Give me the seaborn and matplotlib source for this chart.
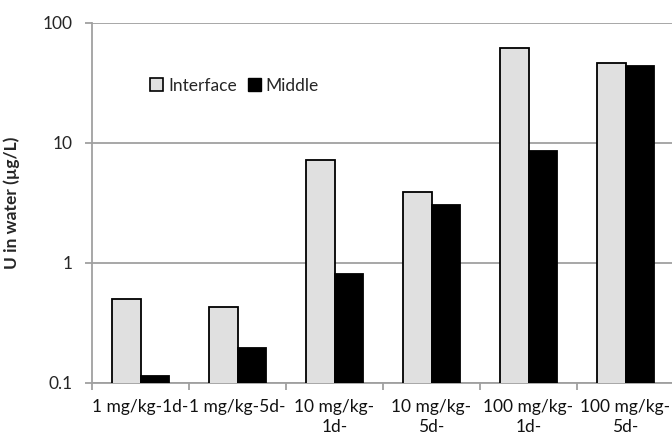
import matplotlib
matplotlib.use("Agg")
import matplotlib.pyplot as plt
import seaborn as sns
import pandas as pd
from matplotlib.patches import Patch
from matplotlib.ticker import FixedLocator, NullFormatter, NullLocator

categories = ["1 mg/kg-1d-", "1 mg/kg-5d-", "10 mg/kg-\n1d-", "10 mg/kg-\n5d-",
              "100 mg/kg-\n1d-", "100 mg/kg-\n5d-"]
interface = [0.50, 0.43, 7.2, 3.9, 62.0, 46.0]
middle = [0.114, 0.195, 0.80, 3.03, 8.6, 43.5]
series = ["Interface", "Middle"]
yticks = [0.1, 1, 10, 100]
ytick_labels = ["0.1", "1", "10", "100"]

df = pd.DataFrame({
    "cat": categories * 2,
    "series": [series[0]] * len(categories) + [series[1]] * len(categories),
    "value": interface + middle,
})

sns.set_style("white")
plt.rcParams["font.family"] = ["Lato", "DejaVu Sans"]
FS = 12.5

fig = plt.figure(figsize=(6.72, 4.37), dpi=100)
ax = fig.add_axes([92 / 672, 1 - 382.7 / 437, 582 / 672, 360 / 437])

colors = {"Interface": "#e0e0e0", "Middle": "#000000"}
sns.barplot(data=df, x="cat", y="value", hue="series", hue_order=series,
            palette=colors, width=0.58, ax=ax, legend=False,
            edgecolor="black", linewidth=1.3, saturation=1, zorder=3)
ax.set_yscale("log")
ax.set_ylim(0.1, 100)
ax.set_xlim(-0.5, len(categories) - 0.5)

ax.yaxis.set_major_locator(FixedLocator(yticks))
ax.set_yticklabels(ytick_labels)
ax.yaxis.set_minor_locator(NullLocator())
ax.grid(axis="y", color="#a0a0a0", linewidth=1.3, zorder=0)
ax.set_axisbelow(True)

ax.set_xticks(range(len(categories)))
ax.set_xticklabels(categories, fontsize=FS, color="#111111", linespacing=1.25)
ax.xaxis.set_minor_locator(FixedLocator([i - 0.5 for i in range(len(categories) + 1)]))
ax.xaxis.set_minor_formatter(NullFormatter())
ax.tick_params(axis="x", which="major", length=0, pad=12)
ax.tick_params(axis="x", which="minor", length=5, width=1.3, color="#a0a0a0", bottom=True)
ax.tick_params(axis="y", which="major", length=5, width=1.3, color="#a0a0a0",
               labelsize=FS, pad=9, left=True)

for s in ["top", "right"]:
    ax.spines[s].set_visible(False)
for s in ["left", "bottom"]:
    ax.spines[s].set_color("#a0a0a0")
    ax.spines[s].set_linewidth(1.3)

ax.set_xlabel("")
ax.set_ylabel("U in water (µg/L)", fontsize=FS, fontweight="bold", labelpad=16)

handles = [Patch(facecolor="#e0e0e0", edgecolor="black", linewidth=1.2),
           Patch(facecolor="black", edgecolor="black")]
ax.legend(handles, series, loc="center left", bbox_to_anchor=(0.088, 0.825),
          ncol=2, frameon=False, fontsize=FS, handlelength=0.75, handleheight=0.75,
          handletextpad=0.3, columnspacing=0.6, borderaxespad=0)

fig.savefig("out.png", dpi=100)
